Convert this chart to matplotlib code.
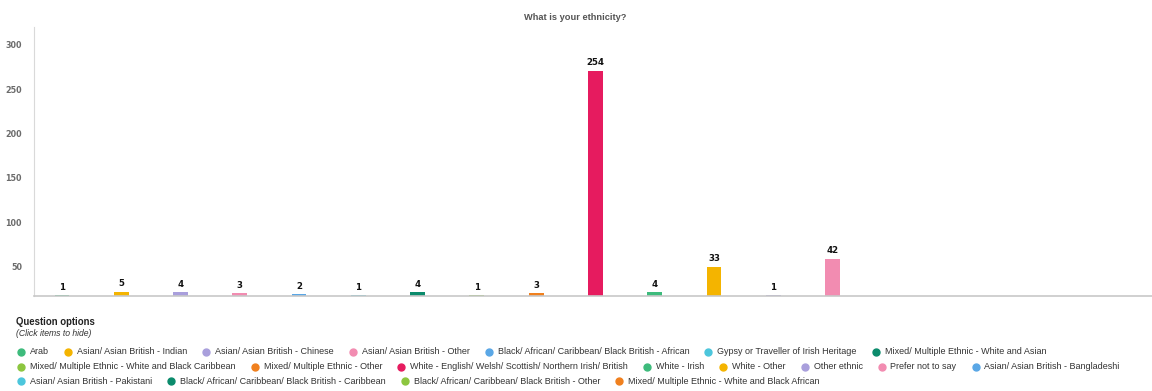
import matplotlib
matplotlib.use("Agg")
import matplotlib.pyplot as plt
from matplotlib.lines import Line2D
from matplotlib.transforms import ScaledTranslation

categories = [
    "Arab",
    "Asian/ Asian British - Indian",
    "Asian/ Asian British - Chinese",
    "Asian/ Asian British - Other",
    "Black/ African/ Caribbean/ Black British - African",
    "Gypsy or Traveller of Irish Heritage",
    "Mixed/ Multiple Ethnic - White and Asian",
    "Mixed/ Multiple Ethnic - White and Black Caribbean",
    "Mixed/ Multiple Ethnic - Other",
    "White - English/ Welsh/ Scottish/ Northern Irish/ British",
    "White - Irish",
    "White - Other",
    "Other ethnic",
    "Prefer not to say",
    "Asian/ Asian British - Bangladeshi",
    "Asian/ Asian British - Pakistani",
    "Black/ African/ Caribbean/ Black British - Caribbean",
    "Black/ African/ Caribbean/ Black British - Other",
    "Mixed/ Multiple Ethnic - White and Black African",
]
counts = [1, 5, 4, 3, 2, 1, 4, 1, 3, 254, 4, 33, 1, 42, 0, 0, 0, 0, 0]
colors = [
    "#3dbb7c", "#f4b400", "#a99fdc", "#f28cb1", "#5aa7e6",
    "#4cc6dc", "#0b8b6c", "#8cc63f", "#f0801e", "#e61b5f",
    "#3dbb7c", "#f4b400", "#a99fdc", "#f28cb1", "#5aa7e6",
    "#4cc6dc", "#0b8b6c", "#8cc63f", "#f0801e",
]
y_ticks = [50, 100, 150, 200, 250, 300]

SANS = ["Liberation Sans", "DejaVu Sans"]
W, H = 1152, 391

fig = plt.figure(figsize=(W / 100, H / 100), dpi=100)
ax = fig.add_axes([34 / W, 95 / H, (W - 34) / W, 269 / H])

x = list(range(len(categories)))
ax.bar(x, counts, width=0.25, color=colors, zorder=2)
ax.set_xlim(-0.472, 18.39)
ax.set_ylim(0, 303)

# value labels on top of each non-empty bar
for i, v in enumerate(counts):
    if v > 0:
        ax.annotate(str(v), (i, v), xytext=(0, 2.5), textcoords="offset points",
                    ha="center", va="bottom", fontsize=6.2, fontweight="bold",
                    color="#111111", family="DejaVu Sans")

# axis styling
for side in ("top", "right"):
    ax.spines[side].set_visible(False)
ax.spines["left"].set_color("#d9d9d9")
ax.spines["bottom"].set_color("#c8c8c8")
ax.spines["bottom"].set_linewidth(1.2)
ax.set_xticks([])
ax.set_yticks(y_ticks)
ax.set_yticklabels([])
ax.tick_params(axis="y", length=0)

# y labels sit a little below their tick, drawn by hand
shift = ScaledTranslation(-12 / 100, -16 / 100, fig.dpi_scale_trans)
for t in y_ticks:
    ax.text(0, t, str(t), transform=ax.get_yaxis_transform() + shift,
            ha="right", va="center", fontsize=5.8, fontweight="bold",
            color="#6b6b6b", family="DejaVu Sans")

fig.text(575 / W, 1 - 17 / H, "What is your ethnicity?", ha="center", va="center",
         fontsize=6.7, fontweight="bold", color="#555555", family=SANS)

# legend block
fig.text(16 / W, 1 - 322 / H, "Question options", ha="left", va="center",
         fontsize=6.9, fontweight="bold", color="#222222", family=SANS)
fig.text(16 / W, 1 - 333 / H, "(Click items to hide)", ha="left", va="center",
         fontsize=6.2, style="italic", color="#333333", family=SANS)

renderer = fig.canvas.get_renderer()
row_y = [352, 366.5, 381]
row = 0
px = 21
for name, c in zip(categories, colors):
    t = fig.text(0, 0, name, ha="left", va="center", fontsize=6.45,
                 color="#333333", family=SANS)
    tw = t.get_window_extent(renderer).width
    if px + 9 + tw > 1145:
        row = min(row + 1, len(row_y) - 1)
        px = 21
    y = 1 - row_y[row] / H
    t.set_position(((px + 9) / W, y))
    fig.add_artist(Line2D([px / W], [y], marker="o", ms=5, color=c,
                          linestyle="none", transform=fig.transFigure))
    px += 9 + tw + 19

fig.savefig("out.png", dpi=100)
